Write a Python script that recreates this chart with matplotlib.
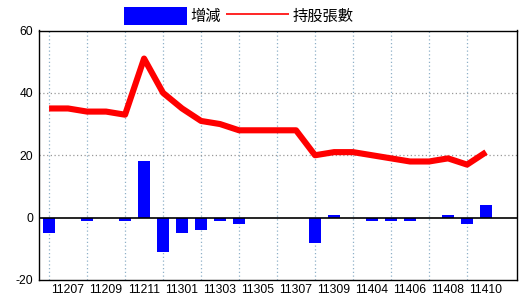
import matplotlib
matplotlib.use("Agg")
import matplotlib.pyplot as plt
import numpy as np

months = ["11206", "11207", "11208", "11209", "11210", "11211", "11212", "11301",
          "11302", "11303", "11304", "11305", "11306", "11307", "11308", "11309",
          "11310", "11404", "11405", "11406", "11407", "11408", "11409", "11410"]
change = [-5, 0, -1, 0, -1, 18, -11, -5, -4, -1, -2, 0, 0, 0, -8, 1, 0, -1, -1, -1, 0, 1, -2, 4]
holdings = [35, 35, 34, 34, 33, 51, 40, 35, 31, 30, 28, 28, 28, 28, 20, 21, 21, 20, 19, 18, 18, 19, 17, 21]
yticks = [-20, 0, 20, 40, 60]

plt.rcParams['font.family'] = ['Liberation Sans', 'Noto Sans CJK TC', 'DejaVu Sans']

fig = plt.figure(figsize=(5.2, 3.0), dpi=100)
ax = fig.add_axes([39/520, 1-280/300, (517-39)/520, (280-30.5)/300])

x = np.arange(len(months))
bars = ax.bar(x, change, width=0.63, color='#0000ff', zorder=3, label='增減')
line, = ax.plot(x, holdings, color='#ff0000', linewidth=4.4, zorder=4,
                solid_joinstyle='round', solid_capstyle='butt', label='持股張數')

ax.set_xlim(-0.53, 24.63)
ax.set_ylim(-20, 60)
ax.set_yticks(yticks)
ax.set_yticklabels([str(v) for v in yticks], fontsize=8.7)

ax.set_xticks(x[1::2])
ax.set_xticklabels(months[1::2], fontsize=8.7)
ax.tick_params(axis='both', length=0, pad=4, colors='black')
ax.tick_params(axis='x', pad=3)

for xv in x[0::2]:
    ax.axvline(xv, color='#8fb0c8', linestyle=(0, (1, 2)), linewidth=0.9, zorder=1)
for yv in [20, 40]:
    ax.axhline(yv, color='#999999', linestyle=(0, (1, 2)), linewidth=0.9, zorder=1)
ax.axhline(0, color='black', linewidth=1.2, zorder=5)

for s in ax.spines.values():
    s.set_color('black')
    s.set_linewidth(1.0)

leg = fig.legend(handles=[bars, line], labels=['增減', '持股張數'], loc='center',
                 bbox_to_anchor=(239/520, 1-16/300), ncol=2, frameon=False,
                 fontsize=11, handlelength=4.1, handleheight=1.4,
                 handletextpad=0.25, columnspacing=0.35, borderaxespad=0)
for t in leg.get_texts():
    t.set_fontfamily(['Noto Sans CJK TC', 'DejaVu Sans'])
for l in leg.get_lines():
    l.set_linewidth(1.2)

fig.savefig("out.png", dpi=100)
